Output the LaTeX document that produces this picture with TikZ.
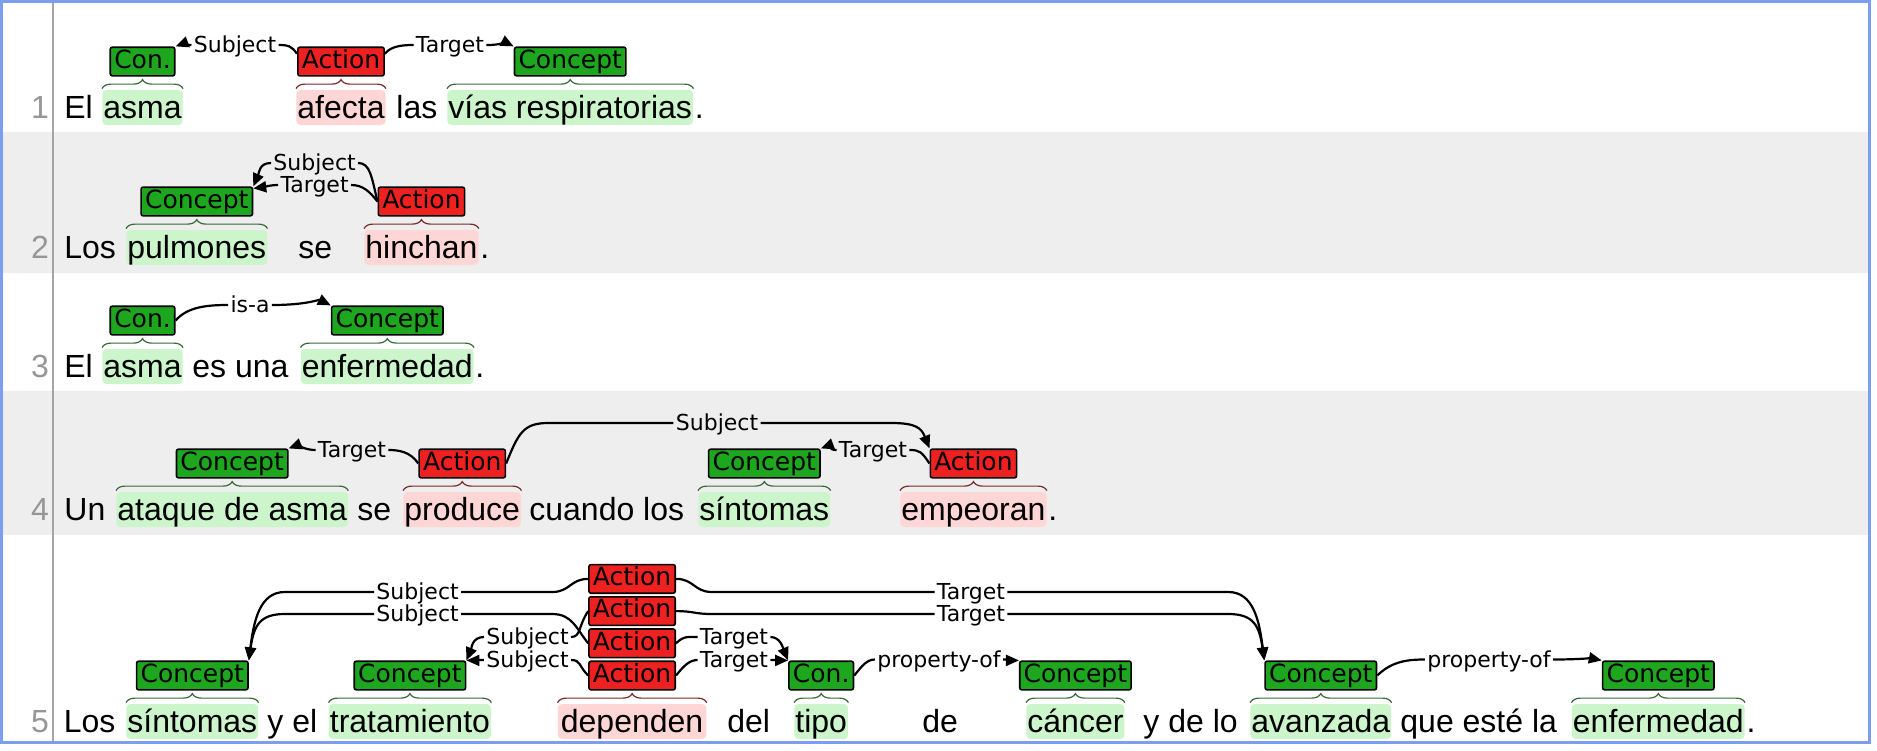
\documentclass[tikz,border=0pt]{standalone}
\usepackage{fontspec}
\setmainfont{Liberation Sans}
\newfontfamily\labfont{DejaVu Sans}
\usetikzlibrary{positioning,calc,arrows.meta,decorations.pathreplacing}
\definecolor{cgreen}{RGB}{31,166,31}
\definecolor{ared}{RGB}{238,33,33}
\definecolor{hlgreen}{RGB}{204,245,204}
\definecolor{hlred}{RGB}{255,214,214}
\definecolor{bgreen}{RGB}{55,105,55}
\definecolor{bred}{RGB}{120,40,40}
\definecolor{rowgray}{RGB}{238,238,238}
\definecolor{linegray}{RGB}{165,165,165}
\definecolor{numgray}{RGB}{150,150,150}
\definecolor{frameblue}{RGB}{125,158,240}
\tikzset{
    tok/.style={anchor=base west,inner xsep=0.5pt,inner ysep=0pt,text height=14pt,text depth=3.5pt,font=\fontsize{16pt}{19pt}\selectfont},
    spanc/.style={tok,fill=hlgreen,rounded corners=2pt},
    spana/.style={tok,fill=hlred,rounded corners=2pt},
    num/.style={anchor=base,text=numgray,font=\fontsize{16pt}{19pt}\selectfont},
    lab/.style={draw=black,line width=0.8pt,rounded corners=1pt,inner xsep=2pt,inner ysep=1pt,text height=9.5pt,text depth=2.8pt,font=\labfont\fontsize{12.5pt}{14pt}\selectfont},
    concept/.style={lab,fill=cgreen},
    action/.style={lab,fill=ared},
    rel/.style={inner xsep=1pt,inner ysep=0pt,text height=8.5pt,text depth=1pt,font=\labfont\fontsize{11pt}{12pt}\selectfont},
    link/.style={line width=1.1pt},
    linkto/.style={link,-{Triangle[length=6.5pt,width=5.5pt]}},
    brc/.style={decorate,decoration={brace,amplitude=4.5pt},line width=0.6pt}
}
\begin{document}
\begin{tikzpicture}[x=0.5pt,y=-0.5pt]
    \useasboundingbox (0,0) rectangle (1877,750);
    \fill[rowgray] (1.5,132) rectangle (1869,273);
    \fill[rowgray] (1.5,391) rectangle (1869,535);
    \draw[linegray,line width=1pt] (53,1.5) -- (53,742);
    \foreach \n/\y in {1/118,2/258,3/377,4/520,5/732}{
        \node[num] (n\n) at (40,\y) {\n};
    }

    \node[tok] (w11) at (63,118) {El};
    \node[spanc] (s11) at (102,118) {asma};
    \node[spana] (s12) at (296,118) {afecta};
    \node[tok] (w12) at (395,118) {las};
    \node[spanc] (s13) at (447,118) {vías respiratorias};
    \node[tok] (w13) at (s13.base east) {.};
    \node[concept,above=6.5pt of s11] (c11) {Con.};
    \node[action,above=6.5pt of s12] (a11) {Action};
    \node[concept,above=6.5pt of s13] (c12) {Concept};
    \node[rel] (r11) at (235,45) {Subject};
    \node[rel] (r12) at (450,45) {Target};
    \draw[link] (a11.170) .. controls +(-6,-8) and +(10,0) .. (r11.east);
    \draw[linkto] (r11.west) .. controls +(-8,0) and +(8,-3) .. (c11.north east);
    \draw[link] (a11.10) .. controls +(6,-8) and +(-10,0) .. (r12.west);
    \draw[linkto] (r12.east) .. controls +(15,0) and +(-8,-4) .. (c12.north west);

    \node[tok] (w21) at (63,258) {Los};
    \node[spanc] (s21) at (126,258) {pulmones};
    \node[tok] (w22) at (297,258) {se};
    \node[spana] (s22) at (364,258) {hinchan};
    \node[tok] (w23) at (s22.base east) {.};
    \node[concept,above=6.5pt of s21] (c21) {Concept};
    \node[action,above=6.5pt of s22] (a21) {Action};
    \node[rel] (r21) at (314.6,163) {Subject};
    \node[rel] (r22) at (314.6,185) {Target};
    \draw[link] (a21.west) .. controls +(-6,-25) and +(12,0) .. (r21.east);
    \draw[link] (a21.west) .. controls +(-8,-10) and +(12,0) .. (r22.east);
    \draw[linkto] (r21.west) .. controls +(-12,0) and +(6,-14) .. (c21.north east);
    \draw[linkto] (r22.west) .. controls +(-8,0) and +(8,-1) .. ([yshift=-1pt]c21.north east);

    \node[tok] (w31) at (63,377) {El};
    \node[spanc] (s31) at (102,377) {asma};
    \node[tok] (w32) at (191,377) {es una};
    \node[spanc] (s32) at (300.5,377) {enfermedad};
    \node[tok] (w33) at (s32.base east) {.};
    \node[concept,above=6.5pt of s31] (c31) {Con.};
    \node[concept,above=6.5pt of s32] (c32) {Concept};
    \node[rel] (r31) at (250,305) {is-a};
    \draw[link] (c31.east) .. controls +(12,-14) and +(-20,0) .. (r31.west);
    \draw[linkto] (r31.east) .. controls +(35,0) and +(-12,-6) .. (c32.north west);

    \node[tok] (w41) at (63,520) {Un};
    \node[spanc] (s41) at (116,520) {ataque de asma};
    \node[tok] (w42) at (356,520) {se};
    \node[spana] (s42) at (403,520) {produce};
    \node[tok] (w43) at (528,520) {cuando los};
    \node[spanc] (s43) at (698,520) {síntomas};
    \node[spana] (s44) at (900,520) {empeoran};
    \node[tok] (w44) at (s44.base east) {.};
    \node[concept,above=6.5pt of s41] (c41) {Concept};
    \node[action,above=6.5pt of s42] (a41) {Action};
    \node[concept,above=6.5pt of s43] (c42) {Concept};
    \node[action,above=6.5pt of s44] (a42) {Action};
    \node[rel] (r41) at (352,450) {Target};
    \node[rel] (r42) at (717,423) {Subject};
    \node[rel] (r43) at (873,450) {Target};
    \draw[link] (a41.west) .. controls +(-8,-12) and +(10,0) .. (r41.east);
    \draw[linkto] (r41.west) .. controls +(-10,0) and +(8,-3) .. (c41.north east);
    \draw[link] (a41.east) .. controls +(12,-30) and +(-25,0) .. ($(r42.west -| a41.east)+(42,0)$) -- (r42.west);
    \draw[linkto] (r42.east) -- ($(r42.east -| a42.north west)+(-38,0)$) .. controls +(25,0) and +(-8,-20) .. (a42.north west);
    \draw[link] (a42.west) .. controls +(-8,-12) and +(10,0) .. (r43.east);
    \draw[linkto] (r43.west) .. controls +(-8,0) and +(8,-3) .. (c42.north east);

    \node[tok] (w51) at (62.5,732) {Los};
    \node[spanc] (s51) at (126,732) {síntomas};
    \node[tok] (w52) at (266,732) {y el};
    \node[spanc] (s52) at (328.5,732) {tratamiento};
    \node[spana,inner xsep=1.5pt] (s53) at (557.5,732) {dependen};
    \node[tok] (w53) at (726,732) {del};
    \node[spanc] (s54) at (794,732) {tipo};
    \node[tok] (w54) at (921,732) {de};
    \node[spanc] (s55) at (1026,732) {cáncer};
    \node[tok] (w55) at (1142,732) {y de lo};
    \node[spanc] (s56) at (1250,732) {avanzada};
    \node[tok] (w56) at (1399,732) {que esté la};
    \node[spanc] (s57) at (1571.5,732) {enfermedad};
    \node[tok] (w57) at (s57.base east) {.};
    \node[concept,above=6.5pt of s51] (c51) {Concept};
    \node[concept,above=6.5pt of s52] (c52) {Concept};
    \node[action,above=6.5pt of s53] (a54) {Action};
    \node[action,above=1pt of a54] (a53) {Action};
    \node[action,above=1pt of a53] (a52) {Action};
    \node[action,above=1pt of a52] (a51) {Action};
    \node[concept,above=6.5pt of s54] (c53) {Con.};
    \node[concept,above=6.5pt of s55] (c54) {Concept};
    \node[concept,above=6.5pt of s56] (c55) {Concept};
    \node[concept,above=6.5pt of s57] (c56) {Concept};
    \node[rel] (r51) at (417.6,592) {Subject};
    \node[rel] (r52) at (417.6,614) {Subject};
    \node[rel] (r53) at (527.5,637) {Subject};
    \node[rel] (r54) at (527.5,660) {Subject};
    \node[rel] (r55) at (971,592) {Target};
    \node[rel] (r56) at (971,614) {Target};
    \node[rel] (r57) at (734,637) {Target};
    \node[rel] (r58) at (734,660) {Target};
    \node[rel] (r59) at (939,659.5) {property-of};
    \node[rel] (r5a) at (1489,659.5) {property-of};
    \draw[link] (a51.west) .. controls +(-18,0) and +(18,0) .. ($(r51.east -| a51.west)+(-36,0)$) -- (r51.east);
    \draw[linkto] (r51.west) -- ($(r51.west -| c51.north east)+(36,0)$) .. controls +(-25,0) and +(5,-40) .. (c51.north east);
    \draw[link] (a53.west) .. controls +(-12,-15) and +(20,0) .. ($(r52.east -| a53.west)+(-36,0)$) -- (r52.east);
    \draw[linkto] (r52.west) -- ($(r52.west -| c51.north east)+(36,0)$) .. controls +(-25,0) and +(5,-35) .. (c51.north east);
    \draw[link] (a52.west) .. controls +(-10,15) and +(10,0) .. (r53.east);
    \draw[linkto] (r53.west) .. controls +(-12,0) and +(5,-12) .. (c52.north east);
    \draw[link] (a54.west) .. controls +(-10,-10) and +(10,0) .. (r54.east);
    \draw[linkto] (r54.west) .. controls +(-8,0) and +(8,0) .. (c52.north east);
    \draw[link] (a51.east) .. controls +(18,0) and +(-18,0) .. ($(r55.west -| a51.east)+(36,0)$) -- (r55.west);
    \draw[linkto] (r55.east) -- ($(r55.east -| c55.north west)+(-36,0)$) .. controls +(25,0) and +(-5,-40) .. (c55.north west);
    \draw[link] (a52.east) .. controls +(18,0) and +(-18,0) .. ($(r56.west -| a52.east)+(36,0)$) -- (r56.west);
    \draw[linkto] (r56.east) -- ($(r56.east -| c55.north west)+(-36,0)$) .. controls +(25,0) and +(-5,-35) .. (c55.north west);
    \draw[link] (a53.east) .. controls +(8,-8) and +(-8,0) .. (r57.west);
    \draw[linkto] (r57.east) .. controls +(10,0) and +(-5,-12) .. (c53.north west);
    \draw[link] (a54.east) .. controls +(8,-10) and +(-8,0) .. (r58.west);
    \draw[linkto] (r58.east) .. controls +(8,0) and +(-8,0) .. (c53.north west);
    \draw[link] (c53.east) .. controls +(8,-10) and +(-8,0) .. (r59.west);
    \draw[linkto] (r59.east) .. controls +(8,0) and +(-8,0) .. (c54.north west);
    \draw[link] (c55.east) .. controls +(15,-15) and +(-15,0) .. (r5a.west);
    \draw[linkto] (r5a.east) .. controls +(20,0) and +(-10,-2) .. (c56.north west);

    \foreach \s in {s11,s13,s21,s31,s32,s41,s43,s51,s52,s54,s55,s56,s57}{
        \draw[brc,bgreen] ([yshift=0.5pt]\s.north west) -- ([yshift=0.5pt]\s.north east);
    }
    \foreach \s in {s12,s22,s42,s44,s53}{
        \draw[brc,bred] ([yshift=0.5pt]\s.north west) -- ([yshift=0.5pt]\s.north east);
    }
    \draw[frameblue,line width=1.5pt] (1.5,1.5) rectangle (1869,742);
\end{tikzpicture}
\end{document}
